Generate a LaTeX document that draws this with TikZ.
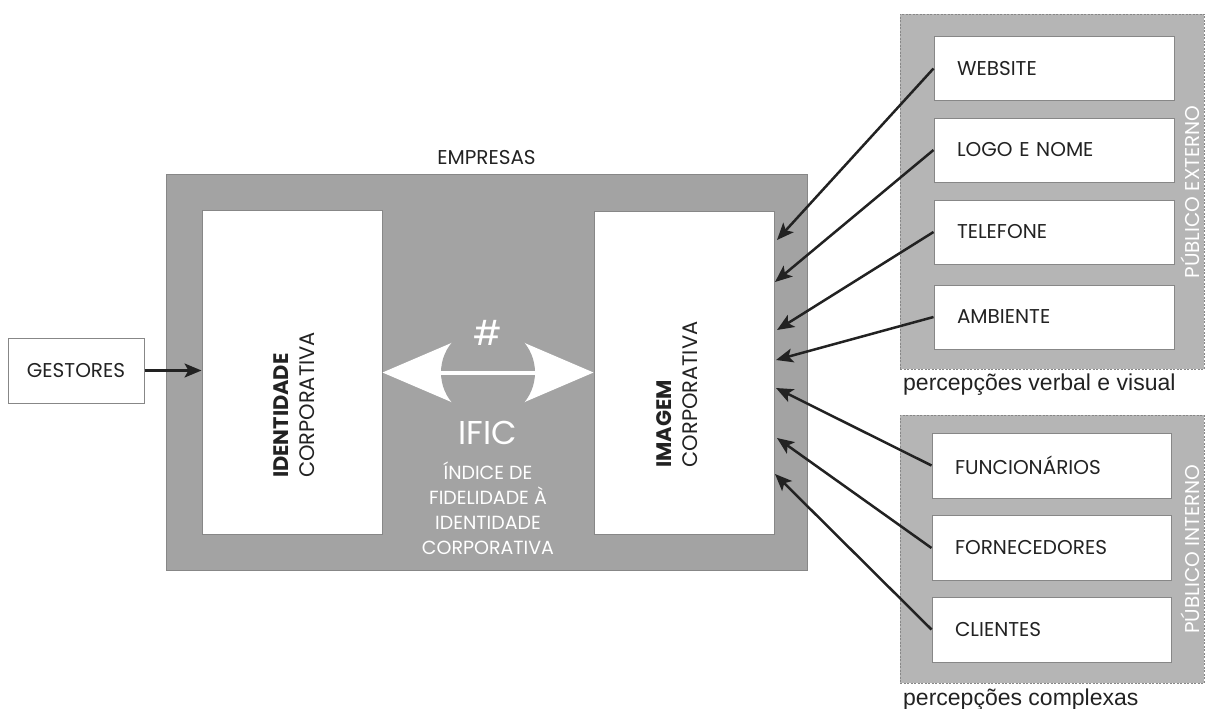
\documentclass[tikz,border=0pt]{standalone}
\usepackage{fontspec}
\setmainfont{Poppins}
\newfontfamily\percfont{Liberation Sans}
\usetikzlibrary{positioning,calc,arrows.meta}
\definecolor{empgray}{RGB}{163,163,163}
\definecolor{grpgray}{RGB}{181,181,181}
\definecolor{edgegray}{RGB}{135,135,135}
\definecolor{ink}{RGB}{34,34,34}
\tikzset{
  every node/.style={font=\fontsize{20}{24}\selectfont, text=ink},
  whitebox/.style={draw=edgegray, fill=white, line width=1pt, inner sep=0pt},
  listbox/.style={whitebox, minimum height=64pt, text width=194pt, inner xsep=23pt, align=left},
  group/.style={draw=edgegray, fill=grpgray, dash pattern=on 2pt off 1.5pt, line width=.8pt, inner sep=0pt},
  feed/.style={draw=ink, line width=2.5pt, -{Stealth[length=17pt,width=14pt,inset=4pt]}},
  sidelabel/.style={rotate=90, text=white, inner sep=0pt},
  perclabel/.style={anchor=base west, inner sep=0pt, font=\percfont\fontsize{23}{23}\selectfont},
}
\begin{document}
\begin{tikzpicture}[x=1pt, y=-1pt]
  \useasboundingbox (0,0) rectangle (1205,709);
  % empresa
  \node[draw=edgegray, fill=empgray, line width=1pt, minimum width=641pt, minimum height=396pt, inner sep=0pt] (empresas) at (486.5,372) {};
  \node[above=5pt of empresas] (emplabel) {EMPRESAS};
  \node[whitebox, minimum width=180pt, minimum height=324pt] (identidade) at (292,372.5) {};
  \node[whitebox, minimum width=180pt, minimum height=323pt] (imagem) at (684,372.5) {};
  \node[rotate=90, align=left, font=\fontsize{21}{26}\selectfont] (idtext) at (294.5,405) {\textbf{IDENTIDADE}\\CORPORATIVA};
  \node[rotate=90, align=left, font=\fontsize{21}{26}\selectfont] (imtext) at (677,394.5) {\textbf{IMAGEM}\\CORPORATIVA};
  \node[whitebox, minimum width=136pt, minimum height=65pt] (gestores) at (76,370.5) {GESTORES};
  \draw[feed] (gestores.east) -- (gestores.east -| identidade.west);
  % seta dupla
  \coordinate (mid) at ($(identidade.east)!.5!(imagem.west)$);
  \fill[white] (identidade.east) -- ++(70,-30) -- ++(0,60) -- cycle;
  \fill[white] (imagem.west) -- ++(-70,-30) -- ++(0,60) -- cycle;
  \fill[empgray] (mid) circle (47);
  \draw[white, line width=4pt] ($(mid)+(-47,0)$) -- ($(mid)+(47,0)$);
  \node[text=white, font=\fontsize{34}{34}\selectfont] (hash) at ($(mid)+(0,-40)$) {\#};
  \node[text=white, font=\fontsize{33}{33}\selectfont] (ific) at (488,433) {IFIC};
  \node[text=white, align=center, font=\fontsize{19}{25}\selectfont] (ifictext) at (488,508) {ÍNDICE DE\\FIDELIDADE À\\IDENTIDADE\\CORPORATIVA};
  % publico externo
  \node[group, minimum width=304pt, minimum height=355pt] (externo) at (1052,191.5) {};
  \node[listbox, minimum height=63pt] (website) at (1054,68.5) {WEBSITE};
  \node[listbox] (logo) at (1054,150) {LOGO E NOME};
  \node[listbox] (telefone) at (1054,232) {TELEFONE};
  \node[listbox] (ambiente) at (1054,317) {AMBIENTE};
  \node[sidelabel] (extlabel) at (1190,192) {PÚBLICO EXTERNO};
  \node[perclabel] (percvis) at (903,390) {percepções verbal e visual};
  % publico interno
  \node[group, minimum width=304pt, minimum height=268pt] (interno) at (1052,549) {};
  \node[listbox, text width=193pt, minimum height=65pt] (funcionarios) at (1051.5,465.5) {FUNCIONÁRIOS};
  \node[listbox, text width=193pt, minimum height=65pt] (fornecedores) at (1051.5,548) {FORNECEDORES};
  \node[listbox, text width=193pt, minimum height=65pt] (clientes) at (1051.5,629.5) {CLIENTES};
  \node[sidelabel] (intlabel) at (1190,549) {PÚBLICO INTERNO};
  \node[perclabel] (perccomp) at (903,705) {percepções complexas};
  % setas
  \coordinate (in1) at (777,240);
  \coordinate (in2) at (775,282);
  \coordinate (in3) at (777,330);
  \coordinate (in4) at (776,360);
  \coordinate (in5) at (776,388);
  \coordinate (in6) at (777,438);
  \coordinate (in7) at (775,474);
  \draw[feed] (website.west) -- (in1);
  \draw[feed] (logo.west) -- (in2);
  \draw[feed] (telefone.west) -- (in3);
  \draw[feed] (ambiente.west) -- (in4);
  \draw[feed] (funcionarios.west) -- (in5);
  \draw[feed] (fornecedores.west) -- (in6);
  \draw[feed] (clientes.west) -- (in7);
\end{tikzpicture}
\end{document}
